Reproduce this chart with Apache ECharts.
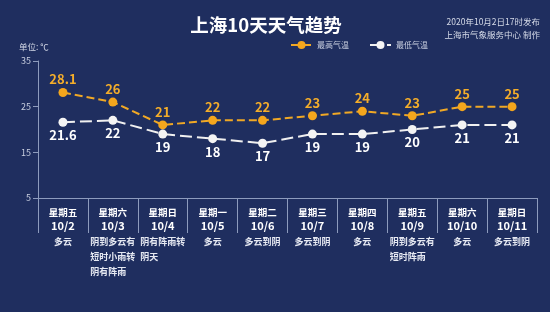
<!DOCTYPE html>
<html><head><meta charset="utf-8">
<script src="https://cdn.jsdelivr.net/npm/echarts@6/dist/echarts.min.js"></script>
<style>html,body{margin:0;padding:0;background:#1f2e5f}#c{width:550px;height:312px}</style>
</head><body><div id="c"></div>
<script>
var weekdays = ['星期五','星期六','星期日','星期一','星期二','星期三','星期四','星期五','星期六','星期日'];
var dates = ['10/2','10/3','10/4','10/5','10/6','10/7','10/8','10/9','10/10','10/11'];
var weather = ['多云','阴到多云有\n短时小雨转\n阴有阵雨','阴有阵雨转\n阴天','多云','多云到阴','多云到阴','多云','阴到多云有\n短时阵雨','多云','多云到阴'];
var highTemp = [28.1, 26, 21, 22, 22, 23, 24, 23, 25, 25];
var lowTemp = [21.6, 22, 19, 18, 17, 19, 19, 20, 21, 21];
var yTicks = [5, 15, 25, 35];

var FONT = '"Noto Sans CJK SC", "Noto Sans", sans-serif';
var chart = echarts.init(document.getElementById('c'), null, {renderer: 'canvas'});
chart.setOption({
  backgroundColor: '#1f2e5f',
  textStyle: {fontFamily: FONT},
  animation: false,
  title: [
    {text: '上海10天天气趋势', left: 261, top: 11, textAlign: 'center',
     textStyle: {color: '#ffffff', fontSize: 18.5, fontWeight: 'bold', fontFamily: FONT}}
  ],
  graphic: [
    {type: 'text', right: 10, top: 18, style: {text: '2020年10月2日17时发布', fill: '#d5dae8', font: '8.5px ' + FONT, textAlign: 'right'}},
    {type: 'text', right: 10, top: 31, style: {text: '上海市气象服务中心 制作', fill: '#d5dae8', font: '8.5px ' + FONT, textAlign: 'right'}},
    {type: 'text', left: 19, top: 43, style: {text: '单位: ℃', fill: '#d5dae8', font: '8.5px ' + FONT}}
  ],
  legend: {
    left: 285, top: 36, itemWidth: 21, itemHeight: 10, itemGap: 20,
    textStyle: {color: '#c9cfe0', fontSize: 8, fontFamily: FONT},
    data: ['最高气温', '最低气温']
  },
  grid: {left: 38, right: 13, top: 61, bottom: 114},
  xAxis: [
    {
      type: 'category', data: dates, boundaryGap: true, position: 'bottom',
      axisLine: {lineStyle: {color: '#8d9bbd', width: 1}},
      axisTick: {show: true, interval: 0, length: 35, alignWithLabel: false, lineStyle: {color: '#8d9bbd'}},
      axisLabel: {
        margin: 7, interval: 0,
        formatter: function (v, i) { return '{w|' + weekdays[i] + '}\n{d|' + v + '}'; },
        rich: {
          w: {color: '#ffffff', fontSize: 9.5, fontWeight: 'bold', lineHeight: 14, fontFamily: FONT},
          d: {color: '#ffffff', fontSize: 11, fontWeight: 'bold', lineHeight: 14, fontFamily: FONT}
        }
      }
    },
    {
      type: 'category', data: weather, boundaryGap: true, position: 'bottom', offset: 28,
      axisLine: {show: false}, axisTick: {show: false},
      axisLabel: {
        margin: 8, interval: 0,
        formatter: function (v) {
          return v.split('\n').map(function (s) { return '{t|' + s + '}'; }).join('\n');
        },
        rich: {
          t: {color: '#e6e9f2', fontSize: 9, fontWeight: 'bold', lineHeight: 15, align: 'left', fontFamily: FONT}
        }
      }
    }
  ],
  yAxis: {
    type: 'value', min: 5, max: 35, interval: 10,
    axisLine: {show: true, lineStyle: {color: '#8d9bbd'}},
    axisTick: {show: true, length: 5, lineStyle: {color: '#8d9bbd'}},
    splitLine: {show: false},
    axisLabel: {color: '#c9cfe0', fontSize: 9, margin: 7,
      formatter: function (v) { return yTicks.indexOf(v) >= 0 ? String(v) : ''; }}
  },
  series: [
    {
      name: '最高气温', type: 'line', data: highTemp, xAxisIndex: 0,
      symbol: 'circle', symbolSize: 9,
      itemStyle: {color: '#f4a61d'},
      lineStyle: {color: '#f0a825', width: 2, type: [8, 4]},
      label: {show: true, position: 'top', distance: 2, color: '#f4ad2a', fontSize: 13, fontWeight: 'bold', fontFamily: FONT}
    },
    {
      name: '最低气温', type: 'line', data: lowTemp, xAxisIndex: 0,
      symbol: 'circle', symbolSize: 9,
      itemStyle: {color: '#f4f4f4'},
      lineStyle: {color: '#f0f0f0', width: 2, type: [12, 5]},
      label: {show: true, position: 'bottom', distance: 2, color: '#ffffff', fontSize: 13, fontWeight: 'bold', fontFamily: FONT}
    }
  ]
});
</script></body></html>
